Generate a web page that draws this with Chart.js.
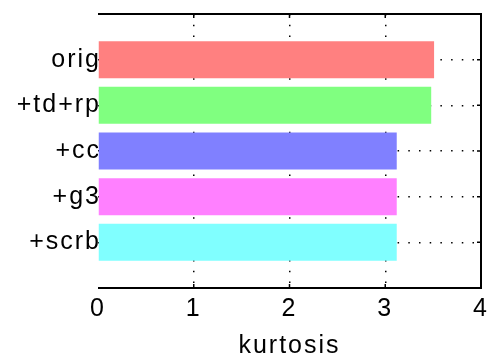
<!DOCTYPE html>
<html>
<head>
<meta charset="utf-8">
<script src="https://cdn.jsdelivr.net/npm/chart.js@4/dist/chart.umd.min.js"></script>
<style>
  html, body { margin: 0; padding: 0; background: #fff; }
  #wrap { width: 487px; height: 361px; }
</style>
</head>
<body>
<div id="wrap"><canvas id="c"></canvas></div>
<script>
// Categories listed top to bottom, with their kurtosis values
const categories = ['orig', '+td+rp', '+cc', '+g3', '+scrb'];
const kurtosis = [3.51, 3.48, 3.12, 3.12, 3.12];
const xTickValues = [0, 1, 2, 3, 4];

const barColors = ['#ff8080', '#80ff80', '#8080ff', '#ff80ff', '#80ffff'];
const FONT = { family: 'Liberation Sans, Arial, sans-serif', size: 25 };
const DOTS = [1.5, 9.2];

// Frame (top, right, bottom) plus inward tick marks
const framePlugin = {
  id: 'frame',
  beforeDraw(chart) {
    chart.ctx.letterSpacing = '2px';
  },
  afterDatasetsDraw(chart) {
    const { ctx, chartArea: a, scales } = chart;
    ctx.save();
    ctx.strokeStyle = '#000';
    ctx.lineWidth = 2;
    ctx.beginPath();
    ctx.moveTo(a.left, a.top);
    ctx.lineTo(a.right, a.top);
    ctx.lineTo(a.right, a.bottom);
    ctx.lineTo(a.left, a.bottom);
    ctx.stroke();
    ctx.lineWidth = 1.5;
    ctx.beginPath();
    xTickValues.slice(1, -1).forEach(v => {
      const px = scales.x.getPixelForValue(v);
      ctx.moveTo(px, a.bottom); ctx.lineTo(px, a.bottom - 4);
      ctx.moveTo(px, a.top); ctx.lineTo(px, a.top + 4);
    });
    categories.forEach((c, i) => {
      const py = scales.y.getPixelForValue(i + 1);
      ctx.moveTo(a.right, py); ctx.lineTo(a.right - 4, py);
    });
    ctx.stroke();
    ctx.restore();
  }
};

new Chart(document.getElementById('c'), {
  type: 'bar',
  data: {
    datasets: [{
      data: categories.map((c, i) => ({ x: kurtosis[i], y: i + 1 })),
      backgroundColor: barColors,
      borderWidth: 0,
      barPercentage: 0.81,
      categoryPercentage: 1.0
    }]
  },
  options: {
    indexAxis: 'y',
    responsive: true,
    maintainAspectRatio: false,
    animation: false,
    layout: { padding: { top: 14, right: 6, left: 0, bottom: 0 } },
    plugins: { legend: { display: false }, tooltip: { enabled: false } },
    scales: {
      x: {
        type: 'linear',
        min: 0, max: 4,
        offset: false,
        afterBuildTicks(scale) { scale.ticks = xTickValues.map(v => ({ value: v })); },
        afterFit(scale) { scale.height = 73; scale.paddingLeft = 0; scale.paddingRight = 0; },
        border: { display: false, dash: DOTS },
        grid: {
          offset: false,
          drawTicks: false,
          color: ctx => (ctx.tick && (ctx.tick.value === 0 || ctx.tick.value === 4)) ? 'rgba(0,0,0,0)' : '#000',
          lineWidth: 1.5
        },
        ticks: { color: '#000', font: FONT, padding: 6, maxRotation: 0 },
        title: { display: true, text: 'kurtosis', color: '#000', font: FONT, padding: { top: 0, bottom: 0 } }
      },
      y: {
        type: 'linear',
        reverse: true,
        min: 0, max: 6,
        offset: false,
        afterBuildTicks(scale) {
          scale.ticks = [0, 1, 2, 3, 4, 5, 6].map(v => ({ value: v }));
        },
        afterFit(scale) { scale.width = 98; scale.paddingTop = 0; scale.paddingBottom = 0; },
        border: { display: false, dash: DOTS },
        grid: {
          offset: false,
          drawTicks: false,
          color: ctx => (ctx.tick && (ctx.tick.value === 0 || ctx.tick.value === 6)) ? 'rgba(0,0,0,0)' : '#000',
          lineWidth: 1.5
        },
        ticks: {
          color: '#000', font: FONT, padding: -3,
          callback: v => categories[v - 1] || ''
        }
      }
    }
  },
  plugins: [framePlugin]
});
</script>
</body>
</html>
